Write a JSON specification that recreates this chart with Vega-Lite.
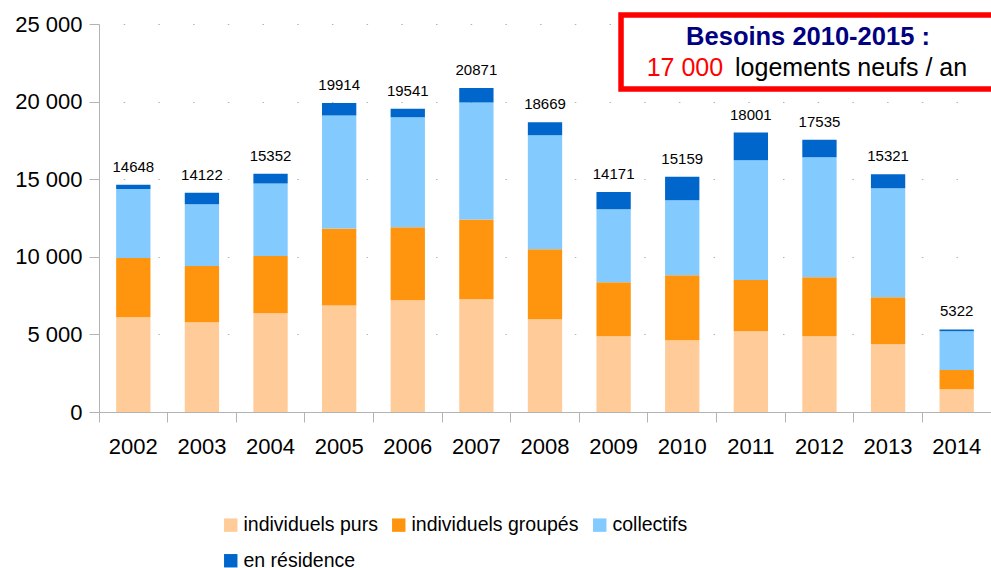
{
  "$schema": "https://vega.github.io/schema/vega-lite/v6.json",
  "autosize": "none",
  "padding": {"left": 99, "top": 24, "right": 0, "bottom": 156},
  "width": 892,
  "height": 388,
  "background": "white",
  "config": {
    "view": {"stroke": null},
    "font": "Liberation Sans",
    "axis": {"labelFont": "Liberation Sans", "labelColor": "#000000", "domainColor": "#b3b3b3", "tickColor": "#b3b3b3", "title": null}
  },
  "datasets": {
    "segments": [
      {"annee": "2002", "type": "individuels purs", "logements": 6100},
      {"annee": "2002", "type": "individuels groupés", "logements": 3820},
      {"annee": "2002", "type": "collectifs", "logements": 4450},
      {"annee": "2002", "type": "en résidence", "logements": 278},
      {"annee": "2003", "type": "individuels purs", "logements": 5780},
      {"annee": "2003", "type": "individuels groupés", "logements": 3630},
      {"annee": "2003", "type": "collectifs", "logements": 3970},
      {"annee": "2003", "type": "en résidence", "logements": 742},
      {"annee": "2004", "type": "individuels purs", "logements": 6360},
      {"annee": "2004", "type": "individuels groupés", "logements": 3690},
      {"annee": "2004", "type": "collectifs", "logements": 4680},
      {"annee": "2004", "type": "en résidence", "logements": 622},
      {"annee": "2005", "type": "individuels purs", "logements": 6870},
      {"annee": "2005", "type": "individuels groupés", "logements": 4960},
      {"annee": "2005", "type": "collectifs", "logements": 7280},
      {"annee": "2005", "type": "en résidence", "logements": 804},
      {"annee": "2006", "type": "individuels purs", "logements": 7200},
      {"annee": "2006", "type": "individuels groupés", "logements": 4700},
      {"annee": "2006", "type": "collectifs", "logements": 7090},
      {"annee": "2006", "type": "en résidence", "logements": 551},
      {"annee": "2007", "type": "individuels purs", "logements": 7260},
      {"annee": "2007", "type": "individuels groupés", "logements": 5150},
      {"annee": "2007", "type": "collectifs", "logements": 7540},
      {"annee": "2007", "type": "en résidence", "logements": 921},
      {"annee": "2008", "type": "individuels purs", "logements": 5970},
      {"annee": "2008", "type": "individuels groupés", "logements": 4510},
      {"annee": "2008", "type": "collectifs", "logements": 7350},
      {"annee": "2008", "type": "en résidence", "logements": 839},
      {"annee": "2009", "type": "individuels purs", "logements": 4880},
      {"annee": "2009", "type": "individuels groupés", "logements": 3480},
      {"annee": "2009", "type": "collectifs", "logements": 4700},
      {"annee": "2009", "type": "en résidence", "logements": 1111},
      {"annee": "2010", "type": "individuels purs", "logements": 4620},
      {"annee": "2010", "type": "individuels groupés", "logements": 4190},
      {"annee": "2010", "type": "collectifs", "logements": 4830},
      {"annee": "2010", "type": "en résidence", "logements": 1519},
      {"annee": "2011", "type": "individuels purs", "logements": 5200},
      {"annee": "2011", "type": "individuels groupés", "logements": 3310},
      {"annee": "2011", "type": "collectifs", "logements": 7710},
      {"annee": "2011", "type": "en résidence", "logements": 1781},
      {"annee": "2012", "type": "individuels purs", "logements": 4880},
      {"annee": "2012", "type": "individuels groupés", "logements": 3800},
      {"annee": "2012", "type": "collectifs", "logements": 7730},
      {"annee": "2012", "type": "en résidence", "logements": 1125},
      {"annee": "2013", "type": "individuels purs", "logements": 4360},
      {"annee": "2013", "type": "individuels groupés", "logements": 3030},
      {"annee": "2013", "type": "collectifs", "logements": 7020},
      {"annee": "2013", "type": "en résidence", "logements": 911},
      {"annee": "2014", "type": "individuels purs", "logements": 1460},
      {"annee": "2014", "type": "individuels groupés", "logements": 1250},
      {"annee": "2014", "type": "collectifs", "logements": 2490},
      {"annee": "2014", "type": "en résidence", "logements": 122}
    ],
    "totaux": [
      {"annee": "2002", "total": 14648},
      {"annee": "2003", "total": 14122},
      {"annee": "2004", "total": 15352},
      {"annee": "2005", "total": 19914},
      {"annee": "2006", "total": 19541},
      {"annee": "2007", "total": 20871},
      {"annee": "2008", "total": 18669},
      {"annee": "2009", "total": 14171},
      {"annee": "2010", "total": 15159},
      {"annee": "2011", "total": 18001},
      {"annee": "2012", "total": 17535},
      {"annee": "2013", "total": 15321},
      {"annee": "2014", "total": 5322}
    ],
    "encadre": [
      {"debut": "2009", "fin": "2014", "haut": 25580, "bas": 20810}
    ],
    "ligne1": [
      {"annee": "2012", "niveau": 23650, "texte": "Besoins 2010-2015 :"}
    ],
    "chiffre": [
      {"annee": "2009", "niveau": 21650, "texte": "17 000"}
    ],
    "suite": [
      {"annee": "2011", "niveau": 21650, "texte": "logements neufs / an"}
    ]
  },
  "layer": [
    {
      "mark": {"type": "rule", "color": "#b3b3b3", "strokeWidth": 1},
      "encoding": {"y": {"datum": 25000, "type": "quantitative"}}
    },
    {
      "data": {"name": "segments"},
      "transform": [
        {"calculate": "indexof(['individuels purs','individuels groupés','collectifs','en résidence'], datum.type)", "as": "rang"}
      ],
      "mark": {"type": "bar", "width": {"band": 0.5}},
      "encoding": {
        "x": {
          "field": "annee", "type": "ordinal",
          "scale": {"paddingInner": 0, "paddingOuter": 0},
          "axis": {"bandPosition": 0, "tickSize": 10, "labelFontSize": 22, "labelPadding": 14, "labelAngle": 0, "domainColor": "#b3b3b3"}
        },
        "y": {
          "field": "logements", "type": "quantitative", "stack": "zero",
          "scale": {"domain": [0, 25000], "nice": false},
          "axis": {
            "values": [0, 5000, 10000, 15000, 20000, 25000],
            "labelExpr": "replace(format(datum.value, ','), ',', ' ')",
            "labelFontSize": 22, "tickSize": 10, "labelPadding": 7,
            "grid": true, "gridColor": "#b3b3b3", "gridDash": [1.5, 33.2], "gridDashOffset": 10.5
          }
        },
        "color": {
          "field": "type", "type": "nominal",
          "scale": {
            "domain": ["individuels purs", "individuels groupés", "collectifs", "en résidence"],
            "range": ["#ffcc99", "#ff950e", "#83caff", "#0066cc"]
          },
          "legend": {
            "title": null, "orient": "none", "legendX": 122, "legendY": 491,
            "direction": "horizontal", "columns": 3,
            "symbolType": "square", "symbolSize": 180, "symbolStrokeWidth": 0,
            "labelFontSize": 19.5, "labelFont": "Liberation Sans", "labelColor": "#000000",
            "labelOffset": 3, "columnPadding": 11, "rowPadding": 15, "labelLimit": 400
          }
        },
        "order": {"field": "rang", "type": "quantitative"}
      }
    },
    {
      "data": {"name": "totaux"},
      "mark": {"type": "text", "fontSize": 15, "baseline": "alphabetic", "dy": -13, "color": "#000000", "font": "Liberation Sans"},
      "encoding": {
        "x": {"field": "annee", "type": "ordinal"},
        "y": {"field": "total", "type": "quantitative"},
        "text": {"field": "total", "type": "quantitative", "format": "d"}
      }
    },
    {
      "data": {"name": "encadre"},
      "mark": {"type": "rect", "fill": "white", "stroke": "#ff0000", "strokeWidth": 5.5},
      "encoding": {
        "x": {"field": "debut", "type": "ordinal", "bandPosition": 0.608},
        "x2": {"field": "fin", "bandPosition": 1.3},
        "y": {"field": "haut", "type": "quantitative"},
        "y2": {"field": "bas"}
      }
    },
    {
      "data": {"name": "ligne1"},
      "mark": {"type": "text", "fontSize": 25.5, "fontWeight": "bold", "color": "#000080", "align": "center", "baseline": "alphabetic", "font": "Liberation Sans"},
      "encoding": {
        "x": {"field": "annee", "type": "ordinal", "bandPosition": 0.333},
        "y": {"field": "niveau", "type": "quantitative"},
        "text": {"field": "texte"}
      }
    },
    {
      "data": {"name": "chiffre"},
      "mark": {"type": "text", "fontSize": 25, "color": "#ff0000", "align": "left", "baseline": "alphabetic", "font": "Liberation Sans"},
      "encoding": {
        "x": {"field": "annee", "type": "ordinal", "bandPosition": 0.982},
        "y": {"field": "niveau", "type": "quantitative"},
        "text": {"field": "texte"}
      }
    },
    {
      "data": {"name": "suite"},
      "mark": {"type": "text", "fontSize": 25, "color": "#000000", "align": "left", "baseline": "alphabetic", "font": "Liberation Sans"},
      "encoding": {
        "x": {"field": "annee", "type": "ordinal", "bandPosition": 0.27},
        "y": {"field": "niveau", "type": "quantitative"},
        "text": {"field": "texte"}
      }
    }
  ]
}
